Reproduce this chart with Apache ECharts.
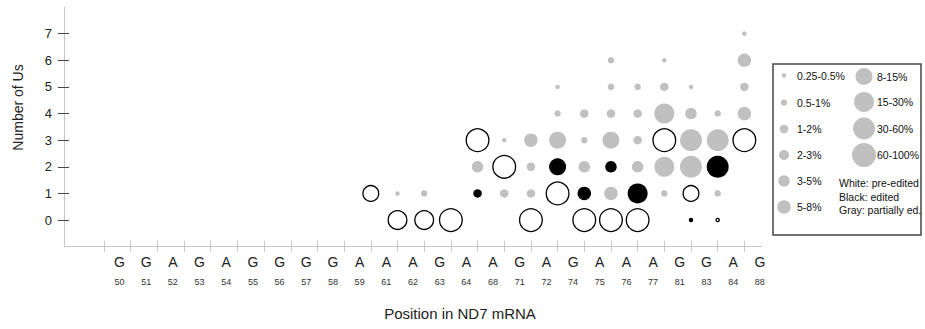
<!DOCTYPE html>
<html>
<head>
<meta charset="utf-8">
<script src="https://cdn.jsdelivr.net/npm/echarts@6/dist/echarts.min.js"></script>
<style>
  html, body { margin: 0; padding: 0; background: #fff; }
  #chart { width: 925px; height: 329px; }
</style>
</head>
<body>
<div id="chart"></div>
<script>
// Posiciones del ARNm ND7 y su base
const positions = ["50", "51", "52", "53", "54", "55", "56", "57", "58", "59", "61", "62", "63",
  "64", "68", "71", "72", "74", "75", "76", "77", "81", "83", "84", "88"];
const bases = ["G", "G", "A", "G", "A", "G", "G", "G", "G", "A", "A", "A", "G",
  "A", "A", "G", "A", "G", "A", "A", "A", "G", "G", "A", "G"];
const uCounts = [0, 1, 2, 3, 4, 5, 6, 7];

// Rangos de porcentaje (clase de tamaño)
const sizeBins = ["0.25-0.5%", "0.5-1%", "1-2%", "2-3%", "3-5%", "5-8%",
  "8-15%", "15-30%", "30-60%", "60-100%"];

// [columna, número de Us, clase de tamaño]
const preEdited = [
  [10, 1, 6], [11, 0, 7], [12, 0, 7], [13, 0, 9], [14, 3, 9], [15, 2, 9],
  [16, 0, 9], [17, 1, 9], [18, 0, 9], [19, 0, 9], [20, 0, 9], [21, 3, 9],
  [22, 1, 6], [23, 0, 0], [24, 3, 9]
];
const edited = [
  [14, 1, 2], [17, 2, 6], [18, 1, 5], [19, 2, 4], [20, 1, 7], [22, 0, 0], [23, 2, 8]
];
const partial = [
  [11, 1, 0], [12, 1, 1],
  [14, 2, 4],
  [15, 3, 0], [15, 1, 2],
  [16, 3, 5], [16, 2, 2], [16, 1, 2],
  [17, 5, 0], [17, 4, 1], [17, 3, 6],
  [18, 4, 2], [18, 3, 1], [18, 2, 4],
  [19, 6, 1], [19, 5, 1], [19, 4, 2], [19, 3, 6], [19, 1, 5],
  [20, 5, 1], [20, 4, 2], [20, 3, 2], [20, 2, 4],
  [21, 6, 0], [21, 5, 2], [21, 4, 7], [21, 2, 7], [21, 1, 1],
  [22, 5, 0], [22, 4, 4], [22, 3, 8], [22, 2, 8],
  [23, 4, 1], [23, 3, 8], [23, 1, 1],
  [24, 7, 0], [24, 6, 5], [24, 5, 2], [24, 4, 5]
];

// Estilos
const FONT = "'Liberation Sans', Arial, sans-serif";
const GRAY = "#c0c0c0";
const binSizes = [4.5, 6.5, 8.5, 10, 11.5, 13.5, 17, 20, 22, 24];
const labelShift = 0.58;
const xMin = -1.5, xMax = 24.65;

const tickCols = positions.map((_, i) => i);
const labelCols = positions.map((_, i) => i + labelShift);

function dotSeries(name, data, color, border) {
  return {
    name: name,
    type: "scatter",
    xAxisIndex: 0,
    yAxisIndex: 0,
    data: data,
    symbol: "circle",
    symbolSize: function (d) {
      return border ? binSizes[d[2]] - 1.3 : binSizes[d[2]];
    },
    itemStyle: border
      ? { color: "#fff", borderColor: "#000", borderWidth: 1.3, opacity: 1 }
      : { color: color, opacity: 1 },
    emphasis: { disabled: true },
    silent: true
  };
}

// Leyenda dibujada a mano
function legendGraphics() {
  const els = [];
  els.push({
    type: "rect",
    shape: { x: 773, y: 64, width: 148, height: 171 },
    style: { fill: "#fff", stroke: "#444", lineWidth: 1.5 }
  });
  const leftRows = [75.5, 102.5, 129, 155, 181, 207];
  const rightRows = [76.5, 102, 128.5, 155];
  sizeBins.forEach((label, i) => {
    const left = i < 6;
    const cy = left ? leftRows[i] : rightRows[i - 6];
    const cx = left ? 784 : 864;
    els.push({
      type: "circle",
      shape: { cx: cx, cy: cy, r: binSizes[i] / 2 },
      style: { fill: GRAY }
    });
    els.push({
      type: "text",
      x: left ? 797 : 877,
      y: cy,
      style: { text: label, font: "10.5px " + FONT, fill: "#111", align: "left", verticalAlign: "middle" }
    });
  });
  [["White: pre-edited", 182.5], ["Black: edited", 196.5], ["Gray: partially ed.", 209.5]].forEach((t) => {
    els.push({
      type: "text",
      x: 839,
      y: t[1],
      style: { text: t[0], font: "10.5px " + FONT, fill: "#111", align: "left", verticalAlign: "middle" }
    });
  });
  return els;
}

const chart = echarts.init(document.getElementById("chart"), null, { renderer: "svg" });

const option = {
  animation: false,
  backgroundColor: "#fff",
  grid: { left: 64, right: 163.3, top: 7, bottom: 82.3 },
  xAxis: [
    {
      type: "value",
      min: xMin,
      max: xMax,
      axisLine: { show: true, onZero: false, lineStyle: { color: "#c8c8c8", width: 1 } },
      axisTick: { show: true, customValues: tickCols, length: 5, lineStyle: { color: "#c8c8c8" } },
      axisLabel: {
        customValues: labelCols,
        margin: 7,
        formatter: function (v) {
          const i = Math.round(v - labelShift);
          return "{b|" + bases[i] + "}\n{p|" + positions[i] + "}";
        },
        rich: {
          b: { fontFamily: FONT, fontSize: 14, lineHeight: 17, color: "#222" },
          p: { fontFamily: FONT, fontSize: 9, lineHeight: 22, color: "#333" }
        }
      },
      splitLine: { show: false }
    },
    {
      type: "value",
      min: xMin,
      max: xMax,
      position: "bottom",
      axisLine: { show: false, onZero: false },
      axisTick: { show: true, inside: true, customValues: tickCols, length: 6, lineStyle: { color: "#c8c8c8" } },
      axisLabel: { show: false },
      splitLine: { show: false }
    }
  ],
  yAxis: [
    {
      type: "value",
      min: -1,
      max: 8,
      interval: 1,
      axisLine: { show: true, onZero: false, lineStyle: { color: "#c8c8c8", width: 1 } },
      axisTick: { show: true, customValues: uCounts, length: 6, lineStyle: { color: "#444" } },
      axisLabel: {
        customValues: uCounts,
        margin: 12,
        fontFamily: FONT,
        fontSize: 13,
        color: "#222"
      },
      splitLine: { show: false }
    },
    {
      type: "value",
      min: -1,
      max: 8,
      interval: 1,
      position: "left",
      axisLine: { show: false, onZero: false },
      axisTick: { show: true, inside: true, customValues: uCounts, length: 5, lineStyle: { color: "#444" } },
      axisLabel: { show: false },
      splitLine: { show: false }
    }
  ],
  graphic: [
    {
      type: "text",
      x: 17.5,
      y: 107.5,
      rotation: Math.PI / 2,
      style: { text: "Number of Us", font: "14px " + FONT, fill: "#222", align: "center", verticalAlign: "middle" }
    },
    {
      type: "text",
      x: 460,
      y: 313,
      style: { text: "Position in ND7 mRNA", font: "15px " + FONT, fill: "#222", align: "center", verticalAlign: "middle" }
    }
  ].concat(legendGraphics()),
  series: [
    dotSeries("Gray: partially ed.", partial, GRAY, false),
    dotSeries("Black: edited", edited, "#000", false),
    dotSeries("White: pre-edited", preEdited, "#fff", true)
  ]
};

chart.setOption(option);
</script>
</body>
</html>
